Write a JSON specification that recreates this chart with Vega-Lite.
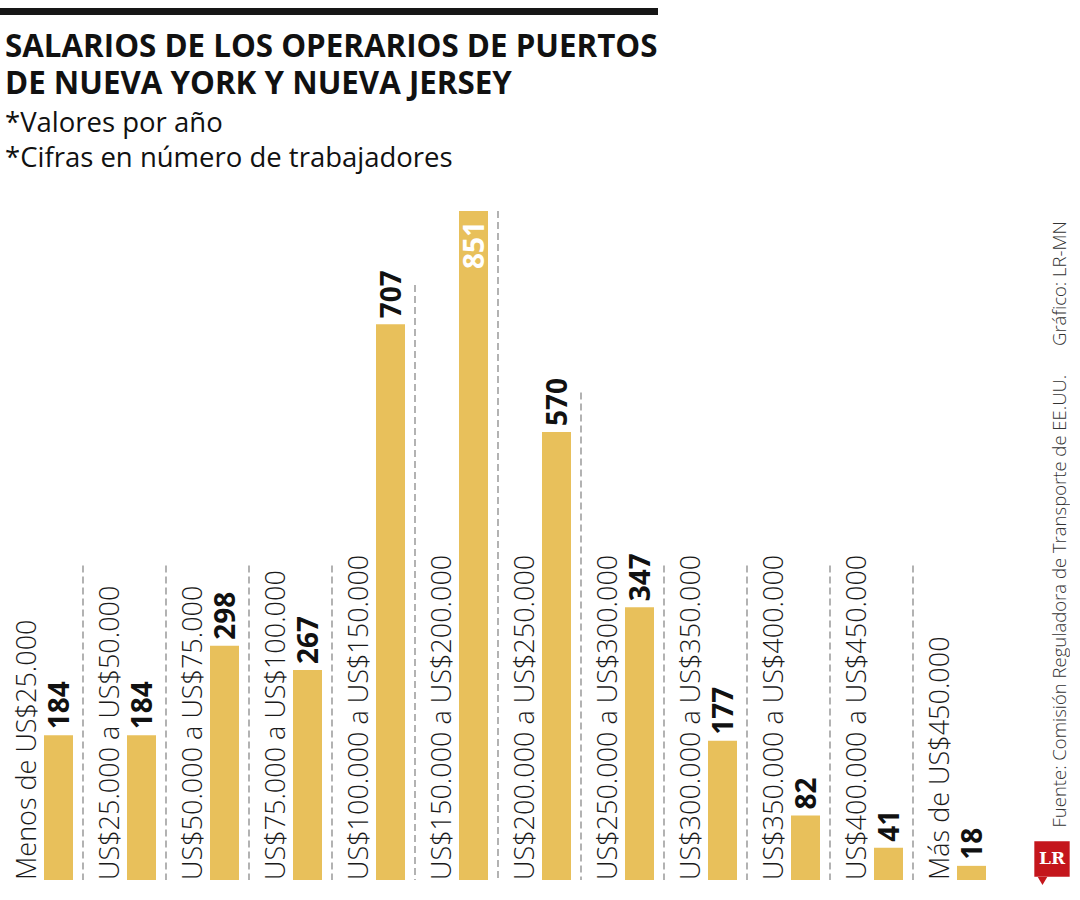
{
  "$schema": "https://vega.github.io/schema/vega-lite/v6.json",
  "background": "white",
  "padding": {"left": 0, "top": 5, "right": 0, "bottom": 0},
  "spacing": 14,
  "config": {"view": {"stroke": null}, "font": "Open Sans"},
  "datasets": {
    "salarios": [
      {"cat": "Menos de US$25.000", "n": 184},
      {"cat": "US$25.000 a US$50.000", "n": 184},
      {"cat": "US$50.000 a US$75.000", "n": 298},
      {"cat": "US$75.000 a US$100.000", "n": 267},
      {"cat": "US$100.000 a US$150.000", "n": 707},
      {"cat": "US$150.000 a US$200.000", "n": 851},
      {"cat": "US$200.000 a US$250.000", "n": 570},
      {"cat": "US$250.000 a US$300.000", "n": 347},
      {"cat": "US$300.000 a US$350.000", "n": 177},
      {"cat": "US$350.000 a US$400.000", "n": 82},
      {"cat": "US$400.000 a US$450.000", "n": 41},
      {"cat": "Más de US$450.000", "n": 18}
    ]
  },
  "vconcat": [
    {
      "width": 658,
      "height": 7,
      "view": {"fill": "#161616", "stroke": null},
      "data": {"values": [{"a": 1}]},
      "mark": {"type": "text", "opacity": 0},
      "encoding": {"text": {"value": ""}}
    },
    {
      "width": 996,
      "height": 669,
      "title": {
        "text": ["SALARIOS DE LOS OPERARIOS DE PUERTOS", "DE NUEVA YORK Y NUEVA JERSEY"],
        "subtitle": ["*Valores por año", "*Cifras en número de trabajadores"],
        "anchor": "start",
        "dx": 5,
        "font": "Open Sans",
        "fontSize": 31.3,
        "fontWeight": 700,
        "lineHeight": 37,
        "color": "#111111",
        "subtitleFont": "Open Sans",
        "subtitleFontSize": 27.5,
        "subtitleFontWeight": 400,
        "subtitleLineHeight": 35,
        "subtitleColor": "#111111",
        "subtitlePadding": 10,
        "offset": 38
      },
      "data": {"name": "salarios"},
      "layer": [
        {
          "transform": [
            {"filter": "datum.cat != 'Más de US$450.000'"},
            {"calculate": "min(851, max(400, datum.n + 50))", "as": "top"}
          ],
          "mark": {"type": "rule", "color": "#8a8a8a", "strokeWidth": 1.3, "strokeDash": [7, 4]},
          "encoding": {
            "x": {"field": "cat", "type": "nominal", "sort": null, "bandPosition": 1, "axis": null,
                  "scale": {"paddingInner": 0, "paddingOuter": 0}},
            "y": {"field": "top", "type": "quantitative"},
            "y2": {"datum": 0}
          }
        },
        {
          "mark": {"type": "bar", "width": 29, "xOffset": 17, "color": "#E8C05B"},
          "encoding": {
            "x": {"field": "cat", "type": "nominal", "sort": null},
            "y": {"field": "n", "type": "quantitative",
                  "scale": {"domain": [0, 851], "nice": false},
                  "axis": {"orient": "right", "labels": false, "ticks": false, "domain": false, "grid": false,
                           "title": "Fuente: Comisión Reguladora de Transporte de EE.UU.\u00a0\u00a0\u00a0\u00a0\u00a0\u00a0Gráfico: LR-MN",
                           "titleAngle": 270, "titleAnchor": "start", "titleAlign": "left", "titleBaseline": "alphabetic",
                           "titleFont": "Open Sans", "titleFontWeight": 300, "titleFontSize": 18.5, "titleColor": "#333333",
                           "titlePadding": 69, "titleY": 616}}
          }
        },
        {
          "mark": {"type": "text", "angle": 270, "align": "left", "baseline": "alphabetic", "xOffset": -6,
                   "fontSize": 27, "fontWeight": 300, "color": "#1a1a1a"},
          "encoding": {
            "x": {"field": "cat", "type": "nominal", "sort": null},
            "y": {"datum": 0, "type": "quantitative"},
            "text": {"field": "cat"}
          }
        },
        {
          "transform": [{"filter": "datum.n < 800"}],
          "mark": {"type": "text", "angle": 270, "align": "left", "baseline": "alphabetic", "xOffset": 27, "dx": 6,
                   "fontSize": 28, "fontWeight": 700, "color": "#111111"},
          "encoding": {
            "x": {"field": "cat", "type": "nominal", "sort": null},
            "y": {"field": "n", "type": "quantitative"},
            "text": {"field": "n"}
          }
        },
        {
          "transform": [{"filter": "datum.n >= 800"}],
          "mark": {"type": "text", "angle": 270, "align": "right", "baseline": "alphabetic", "xOffset": 27, "dx": -10,
                   "fontSize": 28, "fontWeight": 700, "color": "#ffffff"},
          "encoding": {
            "x": {"field": "cat", "type": "nominal", "sort": null},
            "y": {"field": "n", "type": "quantitative"},
            "text": {"field": "n"}
          }
        },
        {
          "data": {"values": [{"cat": "Más de US$450.000", "logo": "LR"}]},
          "mark": {"type": "point", "shape": "square", "size": 1250, "filled": true, "color": "#C4161C", "opacity": 1, "xOffset": 97.5, "yOffset": -21},
          "encoding": {
            "x": {"field": "cat", "type": "nominal", "sort": null},
            "y": {"datum": 0, "type": "quantitative"}
          }
        },
        {
          "data": {"values": [{"cat": "Más de US$450.000", "logo": "LR"}]},
          "mark": {"type": "point", "shape": "triangle-down", "size": 90, "filled": true, "color": "#C4161C", "opacity": 1, "xOffset": 88, "yOffset": 1},
          "encoding": {
            "x": {"field": "cat", "type": "nominal", "sort": null},
            "y": {"datum": 0, "type": "quantitative"}
          }
        },
        {
          "data": {"values": [{"cat": "Más de US$450.000", "logo": "LR"}]},
          "mark": {"type": "text", "font": "DejaVu Serif", "fontWeight": 700, "fontSize": 17, "color": "#ffffff",
                   "align": "center", "baseline": "middle", "xOffset": 97.5, "yOffset": -21},
          "encoding": {
            "x": {"field": "cat", "type": "nominal", "sort": null},
            "y": {"datum": 0, "type": "quantitative"},
            "text": {"field": "logo"}
          }
        }
      ]
    }
  ]
}
